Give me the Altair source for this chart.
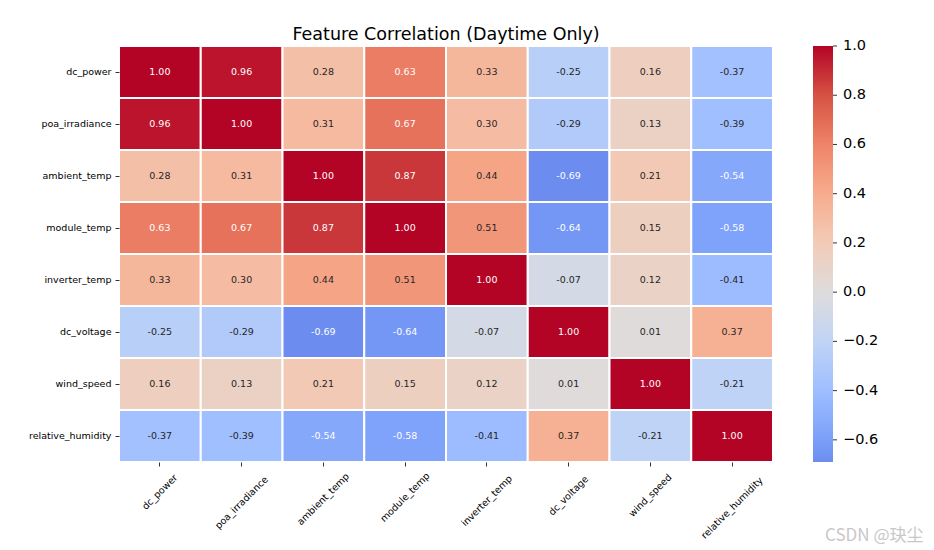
import altair as alt
import pandas as pd

features = ["dc_power", "poa_irradiance", "ambient_temp", "module_temp",
            "inverter_temp", "dc_voltage", "wind_speed", "relative_humidity"]

dc_power = [1.00, 0.96, 0.28, 0.63, 0.33, -0.25, 0.16, -0.37]
poa_irradiance = [0.96, 1.00, 0.31, 0.67, 0.30, -0.29, 0.13, -0.39]
ambient_temp = [0.28, 0.31, 1.00, 0.87, 0.44, -0.69, 0.21, -0.54]
module_temp = [0.63, 0.67, 0.87, 1.00, 0.51, -0.64, 0.15, -0.58]
inverter_temp = [0.33, 0.30, 0.44, 0.51, 1.00, -0.07, 0.12, -0.41]
dc_voltage = [-0.25, -0.29, -0.69, -0.64, -0.07, 1.00, 0.01, 0.37]
wind_speed = [0.16, 0.13, 0.21, 0.15, 0.12, 0.01, 1.00, -0.21]
relative_humidity = [-0.37, -0.39, -0.54, -0.58, -0.41, 0.37, -0.21, 1.00]

rows = [dc_power, poa_irradiance, ambient_temp, module_temp,
        inverter_temp, dc_voltage, wind_speed, relative_humidity]

colorbar_ticks = [-0.6, -0.4, -0.2, 0.0, 0.2, 0.4, 0.6, 0.8, 1.0]
value_min, value_max = -0.69, 1.0

# coolwarm sampled, centered at 0 (colormap spans -1..1, data range -0.69..1)
color_stops = [-0.69, -0.6, -0.4, -0.2, 0.0, 0.2, 0.4, 0.6, 0.8, 1.0]
color_range = ["#6c8def", "#7b9ff9", "#9ebeff", "#c0d4f5", "#dddcdc",
               "#f2cbb7", "#f7ac8e", "#ee8468", "#d65244", "#b40426"]

records = []
for i, r in enumerate(features):
    for j, c in enumerate(features):
        records.append({"row": r, "col": c, "value": rows[i][j]})
df = pd.DataFrame(records)
lab_df = pd.DataFrame({"col": features})
tick_df = pd.DataFrame({"t": colorbar_ticks})
# legend label positions (top one nudged below 1 so it centres like matplotlib)
legend_vals = [v if v < 1 else 0.99999 for v in colorbar_ticks]

W, H = 654, 416
FONT = "DejaVu Sans"
CB_X = W + 40      # colorbar left edge
CB_T = 20          # colorbar thickness

xscale = alt.Scale(paddingInner=0, paddingOuter=0)
yscale = alt.Scale(paddingInner=0, paddingOuter=0)

base = alt.Chart(df)

heat = base.mark_rect(stroke="white", strokeWidth=2).encode(
    x=alt.X("col:N", sort=features, scale=xscale,
            axis=alt.Axis(labels=False, domain=False, ticks=True, tickSize=4,
                          tickWidth=0.8, tickColor="black", grid=False,
                          title="CSDN @玦尘", titleFont="Noto Sans CJK SC",
                          titleFontSize=17, titleFontWeight="normal",
                          titleColor="#c8c8c8", titleAlign="right",
                          titleAnchor="end", titleBaseline="alphabetic",
                          titleX=804, titleY=78)),
    y=alt.Y("row:N", sort=features, scale=yscale,
            axis=alt.Axis(title=None, domain=False, ticks=True, tickSize=4,
                          tickWidth=0.8, tickColor="black", grid=False,
                          labelFont=FONT, labelFontSize=9.5, labelColor="black",
                          labelPadding=4)),
    color=alt.Color("value:Q",
                    scale=alt.Scale(domain=color_stops, range=color_range,
                                    interpolate="rgb"),
                    legend=alt.Legend(orient="none", legendX=CB_X, legendY=0,
                                      title=None, gradientLength=H,
                                      gradientThickness=CB_T,
                                      gradientStrokeWidth=0,
                                      values=legend_vals,
                                      labelExpr="replace(format(datum.value, '.1f'), '-', '\u2212')",
                                      labelFont=FONT, labelFontSize=14.5,
                                      labelColor="black", labelOffset=10,
                                      labelOverlap=False)),
)

annot = base.transform_calculate(
    label="replace(format(datum.value, '.2f'), '\u2212', '-')"
).mark_text(font=FONT, fontSize=9.5).encode(
    x=alt.X("col:N", sort=features),
    y=alt.Y("row:N", sort=features),
    text="label:N",
    color=alt.condition("datum.value >= 0.6 || datum.value <= -0.5",
                        alt.value("white"), alt.value("#262626")),
)

xlabels = alt.Chart(lab_df).transform_calculate(
    ly=f"{H} + 12 + (length(datum.col) * 5.0 + 11) * 0.354"
).mark_text(angle=315, font=FONT, fontSize=9.5, align="center",
            baseline="middle", color="black").encode(
    x=alt.X("col:N", sort=features),
    y=alt.Y("ly:Q", scale=None, axis=None),
    text="col:N",
)

cbticks = alt.Chart(tick_df).mark_rule(color="black", strokeWidth=0.8).encode(
    x=alt.value(CB_X + CB_T),
    x2=alt.value(CB_X + CB_T + 4),
    y=alt.Y("t:Q", scale=alt.Scale(domain=[value_min, value_max],
                                   range=[H, 0]), axis=None),
)

chart = alt.layer(alt.layer(heat, annot), xlabels, cbticks).resolve_scale(
    y="independent"
).resolve_axis(y="independent").properties(
    width=W, height=H,
    title=alt.TitleParams("Feature Correlation (Daytime Only)", font=FONT,
                          fontSize=17.5, fontWeight="normal", color="black",
                          anchor="middle", offset=2),
    autosize=alt.AutoSizeParams(type="none"),
    padding={"left": 111, "top": 38, "right": 150, "bottom": 84},
).configure_view(stroke=None)

chart.save("out.html", embed_options={"renderer": "svg", "actions": False})
